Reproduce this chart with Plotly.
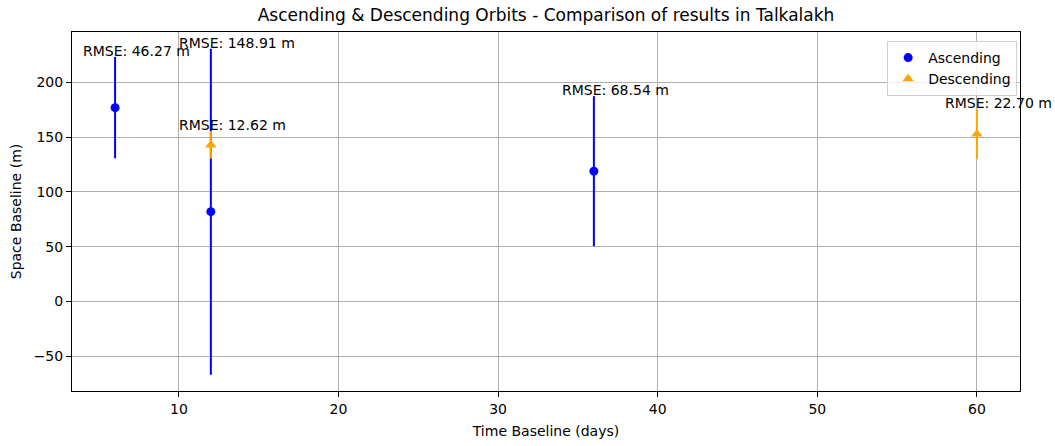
import plotly.graph_objects as go

# Data
asc_time = [6, 12, 36]
asc_space = [177, 82, 119]
asc_rmse = [46.27, 148.91, 68.54]

desc_time = [12, 60]
desc_space = [143, 153]
desc_rmse = [12.62, 22.70]

FONT = "DejaVu Sans"

fig = go.Figure()
fig.add_trace(go.Scatter(
    x=asc_time, y=asc_space, mode="markers", name="Ascending",
    marker=dict(symbol="circle", size=9, color="#0000ff"),
    error_y=dict(type="data", array=asc_rmse, visible=True, width=0, thickness=2, color="#0000ff"),
))
fig.add_trace(go.Scatter(
    x=desc_time, y=desc_space, mode="markers", name="Descending",
    marker=dict(symbol="triangle-up", size=10, color="#ffa500"),
    error_y=dict(type="data", array=desc_rmse, visible=True, width=0, thickness=2, color="#ffa500"),
))

annotations = []
for xs, ys, es in [(asc_time, asc_space, asc_rmse), (desc_time, desc_space, desc_rmse)]:
    for x, y, e in zip(xs, ys, es):
        annotations.append(dict(
            x=x - 2, y=y + e, xref="x", yref="y", text=f"RMSE: {e:.2f} m",
            showarrow=False, xanchor="left", yanchor="bottom",
            font=dict(family=FONT, size=14, color="black"), yshift=-4, xshift=-2,
        ))

axis_common = dict(
    showline=True, linecolor="black", linewidth=1, mirror=True,
    showgrid=True, gridcolor="#b0b0b0", gridwidth=1,
    ticks="outside", ticklen=5, tickcolor="black", tickwidth=1,
    zeroline=False, automargin=False,
    tickfont=dict(family=FONT, size=14, color="black"),
)

fig.update_layout(
    width=1055, height=446,
    margin=dict(l=72, r=35, t=32, b=55, autoexpand=False),
    paper_bgcolor="white", plot_bgcolor="white",
    title=dict(text="Ascending & Descending Orbits - Comparison of results in Talkalakh",
               x=0.5, xref="paper", xanchor="center", y=1 - 15 / 446, yanchor="middle",
               font=dict(family=FONT, size=17, color="black")),
    xaxis=dict(range=[3.3, 62.7], dtick=10, tick0=0,
               title=dict(text="Time Baseline (days)", font=dict(family=FONT, size=14, color="black"), standoff=10),
               **axis_common),
    yaxis=dict(range=[-81.8, 246.1], dtick=50, tick0=0,
               title=dict(text="Space Baseline (m)", font=dict(family=FONT, size=14, color="black"), standoff=8),
               **axis_common),
    legend=dict(x=0.997, y=0.975, xanchor="right", yanchor="top",
                bgcolor="rgba(255,255,255,0.8)", bordercolor="#d0d0d0", borderwidth=1,
                font=dict(family=FONT, size=14, color="black")),
    annotations=annotations,
    showlegend=True,
    hovermode=False,
)

fig.write_html("out.html", config={"displayModeBar": False},
               post_script="document.body.style.margin='0';document.body.style.padding='0';")
